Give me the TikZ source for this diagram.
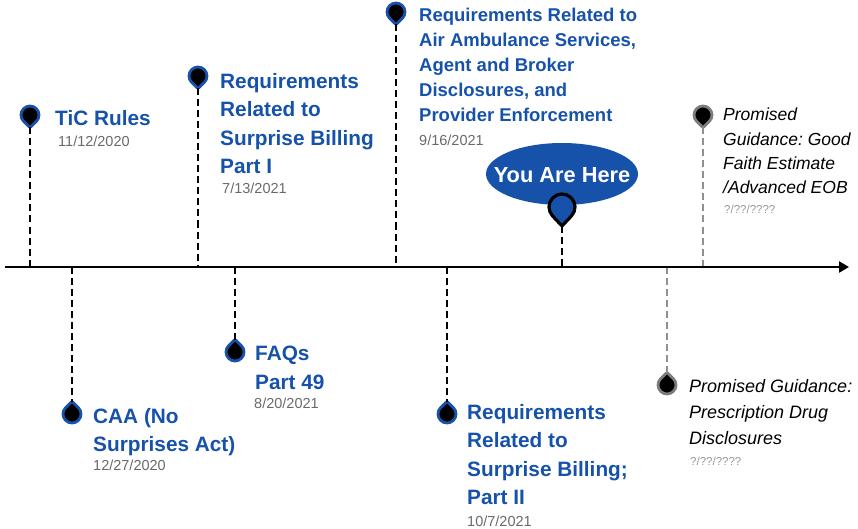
\documentclass[tikz,border=0pt]{standalone}
\usepackage{fontspec}
\setmainfont{Liberation Sans}
\frenchspacing
\usetikzlibrary{arrows.meta,shapes.geometric}
\definecolor{tlblue}{RGB}{22,82,170}
\definecolor{dategray}{RGB}{105,105,105}
\definecolor{pgray}{RGB}{125,125,125}
\begin{document}
\begin{tikzpicture}[x=1pt,y=1pt,
  title/.style={anchor=north west, inner sep=0pt, align=left, text=tlblue, font=\bfseries\fontsize{20.8}{28.5}\selectfont},
  titlesm/.style={title, font=\bfseries\fontsize{18.5}{25}\selectfont},
  promised/.style={anchor=north west, inner sep=0pt, align=left, text=black, font=\itshape\fontsize{17.5}{24.2}\selectfont},
  datelbl/.style={anchor=north west, inner sep=0pt, text=dategray, font=\fontsize{14.5}{16}\selectfont},
  datesm/.style={anchor=north west, inner sep=0pt, text=pgray!80, font=\fontsize{11.5}{13}\selectfont},
  dashline/.style={line width=2.6pt, dash pattern=on 7pt off 4pt},
  graydash/.style={dashline, draw=pgray!85},
  bluepin/.style={draw=tlblue, fill=black, line width=2.8pt},
  graypin/.style={draw=pgray, fill=black, line width=2.8pt},
  smallpin/.pic={\path[pic actions, line join=round] (0,-12.5) -- (-43.9:9) arc[start angle=-43.9, end angle=223.9, radius=9] -- cycle; \coordinate (-tip) at (0,-12.5);},
  bigpin/.pic={\path[pic actions, line join=round] (0,-19) -- (-43.2:13) arc[start angle=-43.2, end angle=223.2, radius=13] -- cycle; \coordinate (-tip) at (0,-19);}
]
\useasboundingbox (0,0) rectangle (858,-529);

% axis
\coordinate (axL) at (5,-267);
\coordinate (axR) at (849,-267);
\foreach \n/\x in {1/30,2/198,3/396,4/562,5/703,6/72,7/235,8/447,9/667}
  \coordinate (a\n) at (\x,-267);

% You Are Here ellipse
\fill[tlblue] (562,-174) ellipse [x radius=76, y radius=31];
\node[inner sep=0pt, text=white, font=\bfseries\fontsize{21.8}{24}\selectfont] (yah) at (562,-175) {You Are Here};

% pins
\pic[bluepin] (p1) at (30,-115) {smallpin};
\pic[bluepin] (p2) at (198,-76) {smallpin};
\pic[bluepin] (p3) at (396,-12) {smallpin};
\pic[draw=black, fill=tlblue, line width=3.2pt] (p4) at (562,-207) {bigpin};
\pic[graypin] (p5) at (703,-115) {smallpin};
\pic[bluepin, rotate=180] (p6) at (72,-414) {smallpin};
\pic[bluepin, rotate=180] (p7) at (235,-352) {smallpin};
\pic[bluepin, rotate=180] (p8) at (447,-414) {smallpin};
\pic[graypin, rotate=180] (p9) at (667,-385) {smallpin};

% connectors
\draw[dashline] (p1-tip) -- (a1);
\draw[dashline] (p2-tip) -- (a2);
\draw[dashline] (p3-tip) -- (a3);
\draw[dashline] (p4-tip) -- (a4);
\draw[graydash] (p5-tip) -- (a5);
\draw[dashline] (a6) -- (p6-tip);
\draw[dashline] (a7) -- (p7-tip);
\draw[dashline] (a8) -- (p8-tip);
\draw[graydash] (a9) -- (p9-tip);

\draw[line width=2.9pt, -{Triangle[length=10pt,width=11pt]}] (axL) -- (axR);

% texts
\node[title] (t1) at (55,-110) {TiC Rules};
\node[datelbl] (d1) at (58,-136) {11/12/2020};

\node[title] (t2) at (220,-73) {Requirements\\Related to\\Surprise Billing\\Part I};
\node[datelbl] (d2) at (222,-183) {7/13/2021};

\node[titlesm] (t3) at (419,-8) {Requirements Related to\\Air Ambulance Services,\\Agent and Broker\\Disclosures, and\\Provider Enforcement};
\node[datelbl] (d3) at (419,-135) {9/16/2021};

\node[promised] (t5) at (723,-108) {Promised\\Guidance: Good\\Faith Estimate\\/Advanced EOB};
\node[datesm] (d5) at (724,-205) {?/??/????};

\node[title] (t6) at (93,-408) {CAA (No\\Surprises Act)};
\node[datelbl] (d6) at (93,-460) {12/27/2020};

\node[title] (t7) at (255,-346) {FAQs\\Part 49};
\node[datelbl] (d7) at (254,-398) {8/20/2021};

\node[title] (t8) at (467,-404) {Requirements\\Related to\\Surprise Billing;\\Part II};
\node[datelbl] (d8) at (467,-516) {10/7/2021};

\node[promised, font=\itshape\fontsize{18}{26.3}\selectfont] (t9) at (689,-379) {Promised Guidance:\\Prescription Drug\\Disclosures};
\node[datesm] (d9) at (690,-457) {?/??/????};
\end{tikzpicture}
\end{document}
